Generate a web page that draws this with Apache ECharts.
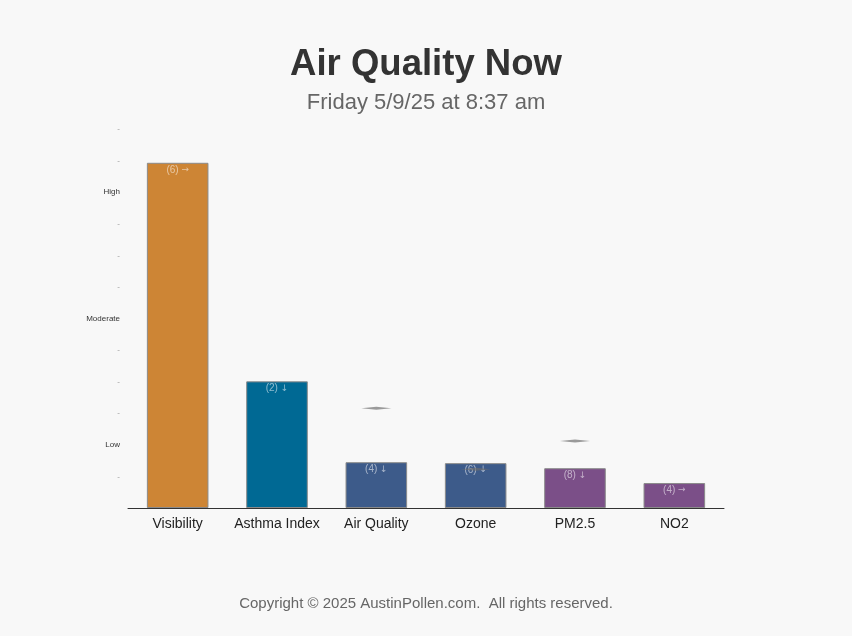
<!DOCTYPE html>
<html>
<head>
<meta charset="utf-8">
<script src="https://cdn.jsdelivr.net/npm/echarts@6/dist/echarts.min.js"></script>
<style>
html,body{margin:0;padding:0;background:#f8f8f8;}
#chart{width:852px;height:636px;}
</style>
</head>
<body>
<div id="chart"></div>
<script>
// Data
const categories = ['Visibility', 'Asthma Index', 'Air Quality', 'Ozone', 'PM2.5', 'NO2'];
const barValues = [10.93, 4.01, 1.45, 1.42, 1.26, 0.79];
const barColors = ['#CD8535', '#006994', '#3D5B8A', '#3D5B8A', '#7B4F88', '#7B4F88'];
const labelNumbers = [6, 2, 4, 6, 8, 4];
const trendArrows = ['→', '↓', '↓', '↓', '↓', '→'];
const markerValues = [null, null, 3.16, 1.23, 2.12, null];
const levelTicks = { 2: 'Low', 6: 'Moderate', 10: 'High' };
const titleText = 'Air Quality Now';
const subtitleText = 'Friday 5/9/25 at 8:37 am';
const footerText = 'Copyright © 2025 AustinPollen.com.  All rights reserved.';

const chart = echarts.init(document.getElementById('chart'), null, {renderer: 'canvas'});
const font = '"Liberation Sans", Arial, sans-serif';

chart.setOption({
  backgroundColor: '#f8f8f8',
  animation: false,
  title: {
    text: titleText,
    subtext: subtitleText,
    left: 'center',
    top: 41,
    itemGap: 9,
    textStyle: { fontFamily: font, fontSize: 36.5, fontWeight: 'bold', color: '#333' },
    subtextStyle: { fontFamily: font, fontSize: 22, color: '#666' }
  },
  graphic: [{
    type: 'text',
    left: 'center',
    top: 596,
    style: { text: footerText, fontFamily: font, fontSize: 15, fill: '#666' }
  }],
  grid: { left: 128, right: 128, top: 129, bottom: 128 },
  xAxis: {
    type: 'category',
    data: categories,
    axisLine: { lineStyle: { color: '#333', width: 1 } },
    axisTick: { show: false },
    axisLabel: { interval: 0, fontFamily: font, fontSize: 14, color: '#222', margin: 9 }
  },
  yAxis: {
    type: 'value',
    min: 0, max: 12, interval: 1,
    axisLine: { show: false },
    axisTick: { show: false },
    splitLine: { show: false },
    axisLabel: {
      fontFamily: font,
      fontSize: 8,
      margin: 8,
      color: function (v) { return levelTicks[v] ? '#333' : '#999'; },
      formatter: function (v) {
        if (v === 0) return '';
        return levelTicks[v] || '-';
      }
    }
  },
  series: [{
    type: 'bar',
    barWidth: '62%',
    data: barValues.map((v, i) => ({
      value: v,
      itemStyle: { color: barColors[i] }
    })),
    itemStyle: { borderColor: '#8a8a8a', borderWidth: 1 },
    label: {
      show: true,
      position: 'insideTop',
      distance: 2,
      fontFamily: font,
      fontSize: 10,
      color: 'rgba(255,255,255,0.55)',
      formatter: function (p) { return '(' + labelNumbers[p.dataIndex] + ') {a|' + trendArrows[p.dataIndex] + '}'; },
      rich: {
        a: { fontFamily: '"DejaVu Sans", sans-serif', fontSize: 9, color: 'rgba(255,255,255,0.55)' }
      }
    }
  }, {
    type: 'scatter',
    data: markerValues,
    symbol: 'diamond',
    symbolSize: [30, 3],
    itemStyle: { color: 'rgba(110,110,110,0.85)' },
    z: 5
  }]
});
</script>
</body>
</html>
